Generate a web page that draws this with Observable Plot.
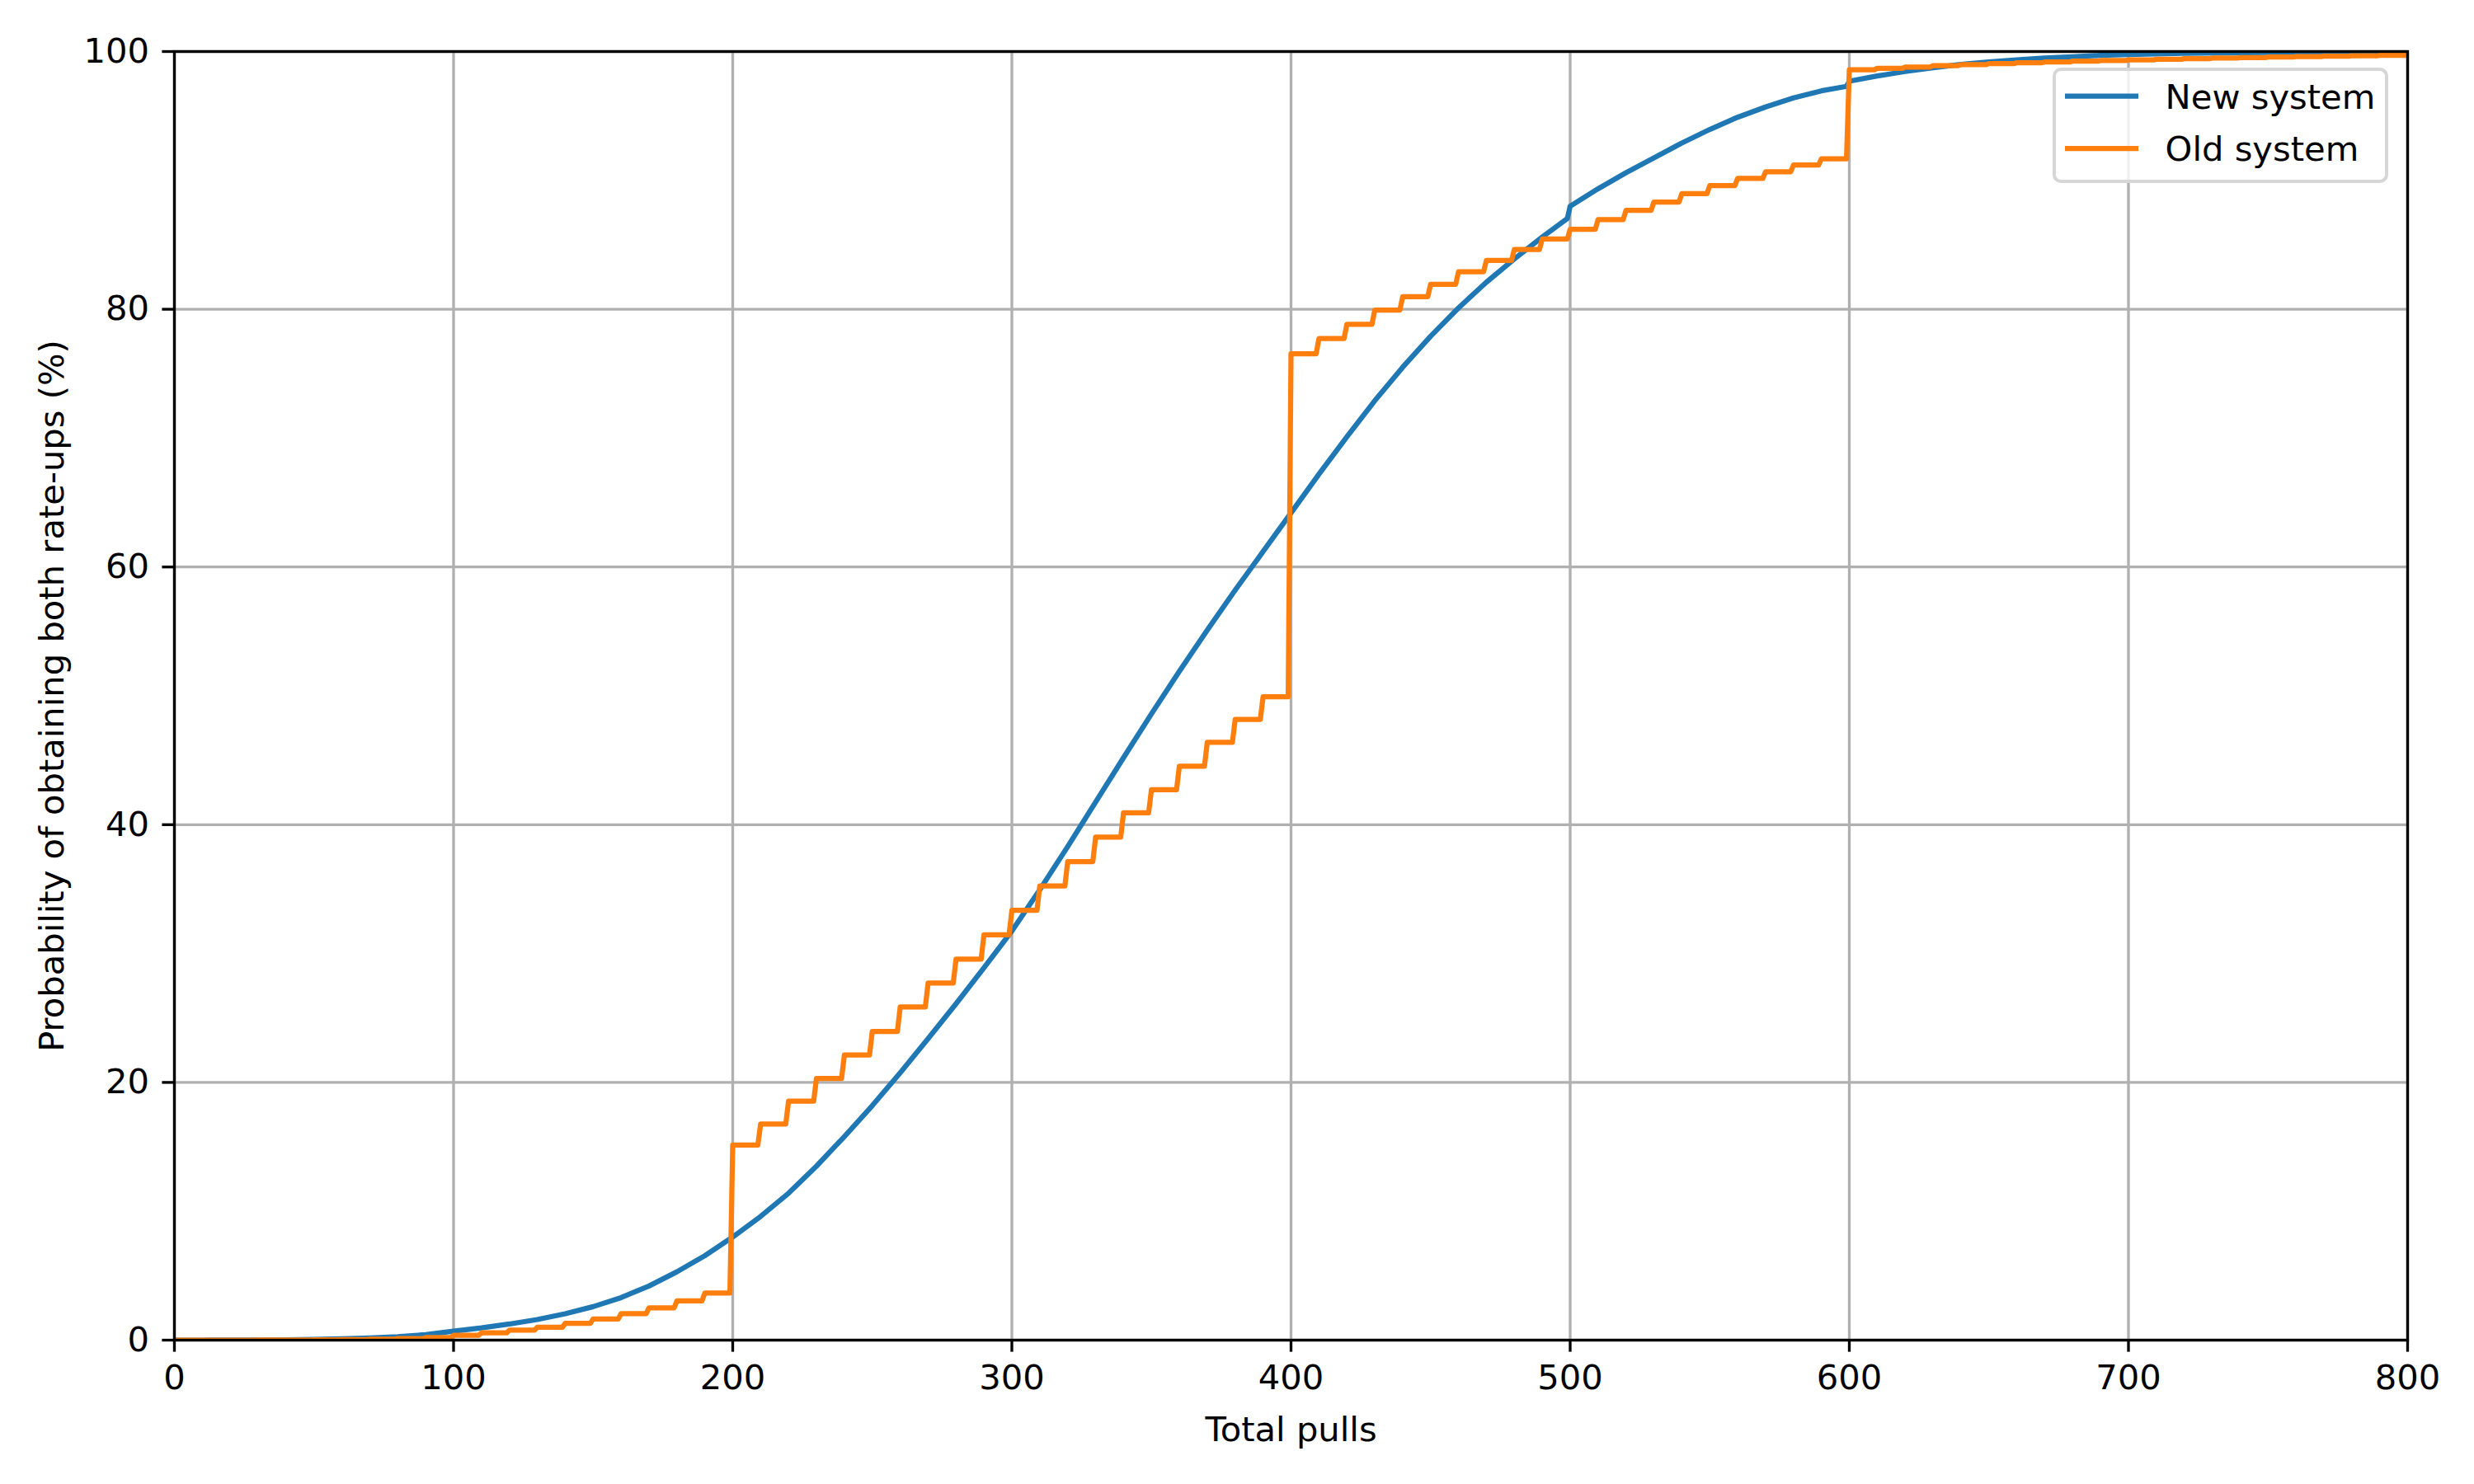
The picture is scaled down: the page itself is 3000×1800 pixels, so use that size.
<!DOCTYPE html>
<html>
<head>
<meta charset="utf-8">
<script src="https://cdn.jsdelivr.net/npm/d3@7"></script>
<script src="https://cdn.jsdelivr.net/npm/@observablehq/plot@0.6"></script>
<style>
  body { margin: 0; background: #fff; }
  #wrap { position: relative; width: 3000px; height: 1800px; font-family: "DejaVu Sans", sans-serif; }
  #legend { position: absolute; left: 2485px; top: 78px; }
</style>
</head>
<body>
<div id="wrap"></div>
<script>
// ---- data ----
const xTicks = [0, 100, 200, 300, 400, 500, 600, 700, 800];
const yTicks = [0, 20, 40, 60, 80, 100];

const seriesNames = ["New system", "Old system"];
const seriesColors = ["#1f77b4", "#ff7f0e"];

// New system: smooth cumulative probability (%)
const newPulls = [0, 10, 20, 30, 40, 50, 60, 70, 80, 90,
  100, 110, 120, 130, 140, 150, 160, 170, 180, 190,
  200, 210, 220, 230, 240, 250, 260, 270, 280, 290,
  300, 310, 320, 330, 340, 350, 360, 370, 380, 390,
  400, 410, 420, 430, 440, 450, 460, 470, 480, 490, 499,
  500, 510, 520, 530, 540, 550, 560, 570, 580, 590, 599,
  600, 610, 620, 630, 640, 650, 660, 670, 680, 690,
  700, 720, 750, 800];
const newProb = [0, 0, 0.005, 0.01, 0.03, 0.06, 0.1, 0.17, 0.27, 0.42,
  0.7, 0.95, 1.25, 1.6, 2.05, 2.6, 3.3, 4.2, 5.3, 6.55,
  8.0, 9.6, 11.4, 13.5, 15.8, 18.2, 20.75, 23.4, 26.1, 28.9,
  31.75, 34.95, 38.3, 41.75, 45.2, 48.6, 51.9, 55.1, 58.2, 61.2,
  64.2, 67.2, 70.1, 72.9, 75.5, 77.9, 80.1, 82.1, 83.9, 85.6, 87.05,
  88.0, 89.35, 90.6, 91.75, 92.9, 93.95, 94.9, 95.7, 96.4, 96.95, 97.3,
  97.7, 98.1, 98.45, 98.75, 99.0, 99.2, 99.35, 99.5, 99.6, 99.7,
  99.77, 99.86, 99.93, 99.98];

// Old system: step value for each block of 10 pulls (%)
const oldBlockStart = [0, 10, 20, 30, 40, 50, 60, 70, 80, 90,
  100, 110, 120, 130, 140, 150, 160, 170, 180, 190,
  200, 210, 220, 230, 240, 250, 260, 270, 280, 290,
  300, 310, 320, 330, 340, 350, 360, 370, 380, 390,
  400, 410, 420, 430, 440, 450, 460, 470, 480, 490,
  500, 510, 520, 530, 540, 550, 560, 570, 580, 590,
  600, 610, 620, 630, 640, 650, 660, 670, 680, 690,
  700, 710, 720, 730, 740, 750, 760, 770, 780, 790];
const oldBlockEnd = oldBlockStart.map(s => s + 9);
const oldProb = [0, 0, 0, 0.005, 0.01, 0.02, 0.04, 0.07, 0.12, 0.2,
  0.38, 0.56, 0.77, 1.0, 1.3, 1.64, 2.05, 2.5, 3.05, 3.65,
  15.14, 16.77, 18.54, 20.30, 22.13, 23.96, 25.85, 27.71, 29.57, 31.46,
  33.35, 35.25, 37.14, 39.03, 40.93, 42.72, 44.54, 46.40, 48.17, 49.93,
  76.54, 77.72, 78.83, 79.94, 80.98, 81.93, 82.91, 83.79, 84.64, 85.45,
  86.20, 86.95, 87.67, 88.32, 88.97, 89.59, 90.15, 90.67, 91.19, 91.68,
  98.58, 98.70, 98.80, 98.90, 98.98, 99.06, 99.13, 99.19, 99.25, 99.30,
  99.35, 99.40, 99.45, 99.49, 99.53, 99.57, 99.61, 99.64, 99.67, 99.70];
const lastPull = 800;

// ---- tables built from the arrays ----
const newData = newPulls.map((p, i) => ({pulls: p, prob: newProb[i]}));
const oldData = oldBlockStart.flatMap((s, i) => [
  {pulls: s, prob: oldProb[i]},
  {pulls: oldBlockEnd[i], prob: oldProb[i]}
]);
oldData.push({pulls: lastPull, prob: oldProb[oldProb.length - 1]});

const FS = 41.67;
const plot = Plot.plot({
  width: 3000,
  height: 1800,
  marginLeft: 211,
  marginRight: 81,
  marginTop: 62,
  marginBottom: 175,
  style: {fontFamily: "'DejaVu Sans', sans-serif", fontSize: FS + "px", background: "white", color: "black"},
  x: {domain: [0, 800]},
  y: {domain: [0, 100]},
  marks: [
    Plot.gridX(xTicks, {stroke: "#b0b0b0", strokeWidth: 3.33, strokeOpacity: 1}),
    Plot.gridY(yTicks, {stroke: "#b0b0b0", strokeWidth: 3.33, strokeOpacity: 1}),
    Plot.line(newData, {x: "pulls", y: "prob", stroke: seriesColors[0], strokeWidth: 6.25, curve: "linear", clip: true, strokeLinejoin: "round"}),
    Plot.line(oldData, {x: "pulls", y: "prob", stroke: seriesColors[1], strokeWidth: 6.25, clip: true, strokeLinejoin: "round"}),
    Plot.frame({stroke: "black", strokeWidth: 3.33}),
    Plot.axisX(xTicks, {tickSize: 14.6, tickPadding: 15, strokeWidth: 3.33, fontSize: FS,
      tickFormat: d => String(d),
      label: "Total pulls", labelAnchor: "center", labelArrow: "none", labelOffset: 122}),
    Plot.axisY(yTicks, {tickSize: 14.6, tickPadding: 16, strokeWidth: 3.33, fontSize: FS,
      tickFormat: d => String(d),
      label: "Probability of obtaining both rate-ups (%)", labelAnchor: "center", labelArrow: "none", labelOffset: 164})
  ]
});

const wrap = document.getElementById("wrap");
wrap.appendChild(plot);

// ---- legend (inside the axes, upper right) ----
const ns = "http://www.w3.org/2000/svg";
const leg = document.createElementNS(ns, "svg");
leg.setAttribute("id", "legend");
leg.setAttribute("width", 415);
leg.setAttribute("height", 148);
const box = document.createElementNS(ns, "rect");
box.setAttribute("x", 6); box.setAttribute("y", 6);
box.setAttribute("width", 403); box.setAttribute("height", 136);
box.setAttribute("rx", 8);
box.setAttribute("fill", "white"); box.setAttribute("fill-opacity", 0.8);
box.setAttribute("stroke", "#d6d6d6"); box.setAttribute("stroke-width", 4);
leg.appendChild(box);
seriesNames.forEach((name, i) => {
  const cy = 38.7 + i * 63.3;
  const ln = document.createElementNS(ns, "line");
  ln.setAttribute("x1", 19); ln.setAttribute("x2", 108);
  ln.setAttribute("y1", cy); ln.setAttribute("y2", cy);
  ln.setAttribute("stroke", seriesColors[i]); ln.setAttribute("stroke-width", 6.25);
  leg.appendChild(ln);
  const tx = document.createElementNS(ns, "text");
  tx.setAttribute("x", 140.6); tx.setAttribute("y", 53.7 + i * 63.3);
  tx.setAttribute("font-family", "'DejaVu Sans', sans-serif");
  tx.setAttribute("font-size", FS);
  tx.setAttribute("fill", "black");
  tx.textContent = name;
  leg.appendChild(tx);
});
wrap.appendChild(leg);
</script>
</body>
</html>
